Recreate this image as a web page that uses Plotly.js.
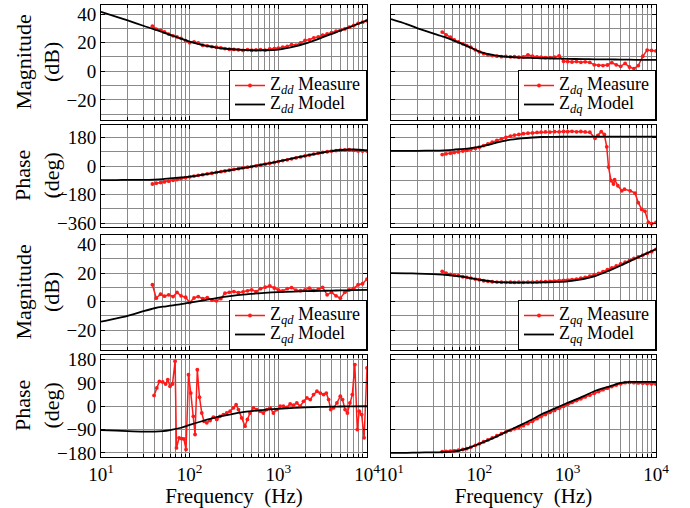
<!DOCTYPE html>
<html><head><meta charset="utf-8">
<script src="https://cdn.plot.ly/plotly-3.0.1.min.js"></script>
<style>html,body{margin:0;padding:0;background:#fff;}#chart{width:690px;height:508px;}
#chart svg text, #chart svg tspan { font-family: "Liberation Serif", "Times New Roman", serif !important; }</style>
</head><body><div id="chart"></div>
<script>
// ---------------- data ----------------
const modelFreq = [10, 15, 20, 30, 40, 50, 60, 80, 100, 150, 200, 300, 400, 500, 700, 1000, 1500, 2000, 3000, 4000, 5000, 7000, 10000];
const measFreq = [38, 42, 47, 52, 58, 65, 72, 80, 90, 100, 112, 125, 140, 158, 178, 200, 225, 250, 280, 315, 355, 400, 450, 500, 560, 630, 710, 800, 900, 1000, 1120, 1260, 1410, 1580, 1780, 2000, 2240, 2510, 2820, 3160, 3550, 3980, 4470, 5010, 5620, 6310, 7080, 7940, 8910, 10000];

// Zdd magnitude (dB)
const zddMagModel = [41.5, 38, 35.5, 31.8, 29.3, 27.2, 25.5, 22.8, 20.8, 18, 16.6, 15.4, 14.9, 14.7, 14.7, 15.2, 17.2, 19.3, 23.2, 26.2, 28.3, 31.8, 35.6];
const zddMagMeas = [31.5, 29.5, 28.6, 27.5, 26.0, 24.8, 24.0, 23.0, 21.4, 20.0, 20.6, 19.8, 18.2, 17.8, 17.3, 16.8, 16.3, 15.9, 15.4, 15.3, 15.0, 14.6, 15.1, 14.7, 14.9, 15.2, 14.8, 15.6, 15.9, 16.2, 16.8, 17.4, 18.6, 18.3, 19.8, 21.6, 22.0, 23.4, 24.0, 25.2, 26.1, 27.0, 28.0, 28.6, 29.6, 30.8, 32.0, 33.4, 34.3, 35.3];

// Zdq magnitude (dB)
const zdqMagModel = [36.5, 33, 30, 26.5, 24, 21.8, 19.8, 16.5, 13.8, 11.2, 10.3, 9.6, 9.3, 9.1, 8.9, 8.7, 8.5, 8.4, 8.3, 8.2, 8.1, 8, 8];
const zdqMagMeas = [27.4, 25.5, 23.8, 22.0, 20.5, 19.2, 18.0, 16.8, 15.0, 13.5, 12.3, 11.5, 11.0, 10.6, 10.2, 10.4, 10.1, 10.3, 9.8, 10.0, 11.5, 10.5, 10.0, 9.8, 9.5, 9.6, 9.8, 10.8, 7.0, 6.8, 6.5, 6.8, 6.3, 6.6, 6.2, 4.5, 4.2, 4.0, 4.4, 6.0, 4.5, 3.5, 5.5, 3.0, 1.9, 4.0, 10.5, 14.8, 14.6, 14.2];

// Zdd phase (deg)
const zddPhModel = [-88, -88, -87, -87, -85, -82, -78, -72, -66, -52, -40, -24, -12, -3, 12, 30, 50, 65, 84, 95, 102, 105, 100];
const zddPhMeas = [-113, -108, -104, -100, -95, -90, -85, -79, -73, -68, -63, -58, -54, -49, -45, -40, -35, -31, -26, -21, -16, -11, -7, -3, 1, 6, 12, 18, 23, 29, 35, 40, 46, 52, 58, 64, 70, 76, 82, 87, 91, 95, 98, 101, 103, 104, 100, 96, 95, 95];

// Zdq phase (deg)
const zdqPhModel = [96, 96, 97, 98, 100, 103, 107, 114, 122, 145, 162, 175, 181, 184, 185, 186, 186, 186, 186, 186, 186, 186, 186];
const zdqPhFreq = [38, 42, 47, 52, 58, 65, 72, 80, 90, 100, 112, 125, 140, 158, 178, 200, 225, 250, 280, 315, 355, 400, 450, 500, 560, 630, 710, 800, 900, 1000, 1120, 1260, 1410, 1580, 1780, 2040, 2200, 2400, 2600, 2770, 2900, 3100, 3300, 3400, 3700, 4100, 4400, 5100, 5800, 6300, 6900, 7500, 8200, 8900, 10000];
const zdqPhMeas = [73, 78, 82, 86, 90, 95, 100, 106, 112, 120, 130, 140, 152, 163, 172, 182, 190, 196, 200, 205, 208, 210, 213, 215, 216, 215, 218, 217, 219, 218, 220, 217, 219, 216, 214, 176, 195, 218, 200, 122, -6, -92, -113, -86, -124, -156, -146, -156, -171, -231, -274, -285, -356, -364, -356];

// Zqd magnitude (dB)
const zqdMagModel = [-14.1, -11.8, -10, -6.8, -4.7, -3.6, -2.9, -1.8, -0.7, 1.0, 2.4, 4.0, 4.9, 5.4, 6.1, 6.6, 7.0, 7.3, 7.5, 7.7, 7.8, 8.0, 8.2];
const zqdMagMeas = [11.8, 2.4, 5.2, 3.8, 4.7, 3.5, 6.4, 4.0, 3.0, -0.7, 2.5, 3.5, 2.0, 2.8, 1.0, 0.5, 2.0, 5.9, 6.5, 7.0, 6.2, 6.8, 7.5, 8.2, 7.0, 9.0, 10.1, 11.0, 9.5, 8.2, 7.5, 9.0, 9.8, 8.0, 7.6, 8.2, 9.4, 7.8, 8.6, 10.0, 4.7, 6.5, 4.0, 2.4, 6.5, 8.2, 9.3, 11.8, 12.5, 15.8];

// Zqq magnitude (dB)
const zqqMagModel = [20, 19.8, 19.6, 19.2, 18.8, 18.2, 17.6, 16.4, 15.3, 13.8, 13.4, 13.3, 13.3, 13.4, 13.7, 14.2, 15.8, 17.6, 21.9, 25.3, 28.2, 32.4, 36.9];
const zqqMagMeas = [21.2, 20.0, 19.0, 18.6, 18.2, 17.4, 17.0, 16.4, 15.8, 15.3, 14.6, 14.2, 13.9, 13.7, 13.6, 13.5, 13.6, 13.4, 13.6, 13.5, 13.7, 13.6, 13.8, 13.9, 14.0, 14.2, 14.3, 14.6, 14.8, 15.0, 15.4, 15.8, 16.4, 17.0, 17.8, 18.8, 19.8, 21.0, 22.4, 23.6, 25.0, 26.4, 27.6, 28.8, 30.2, 31.4, 32.6, 33.8, 35.0, 36.6];

// Zqd phase (deg)
const zqdPhModel = [-92, -94, -96, -98, -98, -96, -92, -83, -72, -54, -42, -30, -23, -19, -14, -10, -6, -4, -2.6, -1.5, -1, -0.5, 0];
const zqdPhFreq = [39.7, 42.6, 45.5, 49.6, 53.6, 56.7, 60, 64, 68.5, 71, 76, 81, 86, 91, 97, 103, 110, 115, 122, 129, 137, 145, 156, 170, 185, 202, 220, 240, 262, 286, 312, 334, 355, 386, 421, 448, 479, 523, 570, 622, 678, 740, 807, 880, 960, 1047, 1142, 1246, 1359, 1482, 1617, 1764, 1924, 2099, 2290, 2497, 2724, 2972, 3242, 3475, 3690, 3900, 4200, 4580, 5000, 5300, 5660, 6010, 6420, 6830, 7290, 7770, 8170, 8700, 9280, 10000];
const zqdPhMeas = [42, 71, 96, 94, 86, 103, 77, 86, 174, -161, -122, -125, -126, -167, 122, 51, -39, -109, 141, 35, -26, -58, -64, -55, -42, -51, -39, -32, -26, -19, -6, 6, -13, -45, -77, -51, -26, -6, -13, -19, -26, -13, -6, -26, -13, 0, 0, -4, 9, 4, 13, 0, 19, 32, 26, 45, 58, 51, 45, 51, 26, -13, -6, 13, 39, 26, -13, -26, 13, 45, 161, -90, -19, -32, -122, 148];

// Zqq phase (deg)
const zqqPhModel = [-180, -180, -179, -178, -177, -175, -171, -158, -145, -120, -99, -71, -50, -32, -10, 13, 38, 58, 77, 90, 94, 94, 94];
const zqqPhMeas = [-175, -174, -173, -172, -170, -167, -164, -158, -151, -145, -137, -130, -122, -114, -106, -99, -93, -87, -81, -75, -67, -58, -48, -40, -32, -24, -16, -8, 0, 8, 15, 22, 29, 36, 43, 50, 57, 64, 70, 76, 82, 87, 91, 92, 91, 90, 89, 88, 87, 86];

const legendNames = ['dd', 'dq', 'qd', 'qq'];
const xTickVals = [10, 100, 1000, 10000];
const xTickText = ['10<sup>1</sup>', '10<sup>2</sup>', '10<sup>3</sup>', '10<sup>4</sup>'];

// ---------------- layout ----------------
const W = 690, H = 508;
const colX = [[101 / W, 367 / W], [391 / W, 656 / W]];
const rowPx = [[5, 120], [125, 227], [235, 350], [355, 457]];
const rowY = rowPx.map(r => [1 - r[1] / H, 1 - r[0] / H]);
const yRanges = [[-34, 46.3], [-385, 260], [-34, 46.7], [-196, 198]];
const yDtick = [20, 180, 20, 90];
const yMinor = [10, 90, 10, null];

const FONT = 'Liberation Serif';
const RED = '#ff1a1a';
const GRID = '#8a8a8a';

const panels = [
  [{m: zddMagModel, mx: measFreq, me: zddMagMeas, leg: 0}, {m: zdqMagModel, mx: measFreq, me: zdqMagMeas, leg: 1}],
  [{m: zddPhModel, mx: measFreq, me: zddPhMeas}, {m: zdqPhModel, mx: zdqPhFreq, me: zdqPhMeas}],
  [{m: zqdMagModel, mx: measFreq, me: zqdMagMeas, leg: 2}, {m: zqqMagModel, mx: measFreq, me: zqqMagMeas, leg: 3}],
  [{m: zqdPhModel, mx: zqdPhFreq, me: zqdPhMeas}, {m: zqqPhModel, mx: measFreq, me: zqqPhMeas}]
];

const legendLabel = (sub, word) =>
  '<span style="font-size:18px">Z<sub><i>' + sub + '</i></sub> ' + word + '</span>';

const traces = [];
const layout = {
  width: W, height: H,
  margin: {l: 0, r: 0, t: 0, b: 0},
  showlegend: true,
  annotations: []
};

for (let r = 0; r < 4; r++) {
  for (let c = 0; c < 2; c++) {
    const n = r * 2 + c + 1;
    const xa = 'x' + (n === 1 ? '' : n), ya = 'y' + (n === 1 ? '' : n);
    const p = panels[r][c];
    const hasLeg = p.leg !== undefined;
    const legId = hasLeg ? (p.leg === 0 ? 'legend' : 'legend' + (p.leg + 1)) : 'legend';
    const sub = hasLeg ? legendNames[p.leg] : '';
    traces.push({
      x: p.mx, y: p.me, xaxis: xa, yaxis: ya, type: 'scatter', mode: 'lines+markers',
      line: {color: RED, width: 1.5}, marker: {color: RED, size: 3.8},
      name: legendLabel(sub, 'Measure'),
      showlegend: hasLeg, legend: legId
    });
    traces.push({
      x: modelFreq, y: p.m, xaxis: xa, yaxis: ya, type: 'scatter', mode: 'lines',
      line: {color: '#000', width: 1.8, shape: 'spline', smoothing: 0.8},
      name: legendLabel(sub, 'Model'),
      showlegend: hasLeg, legend: legId
    });

    const xk = 'xaxis' + (n === 1 ? '' : n), yk = 'yaxis' + (n === 1 ? '' : n);
    layout[xk] = {
      type: 'log', range: [1, 4], domain: colX[c], anchor: ya,
      tickmode: 'array', tickvals: xTickVals, ticktext: xTickText,
      showticklabels: r === 3,
      tickfont: {size: 19, family: FONT, color: '#000'},
      ticks: 'inside', ticklen: 4, tickcolor: '#000',
      showgrid: true, gridcolor: GRID, gridwidth: 1,
      minor: {dtick: 'D1', showgrid: true, gridcolor: GRID, gridwidth: 1, ticks: 'inside', ticklen: 3, tickcolor: '#000'},
      showline: true, linecolor: '#000', linewidth: 1, mirror: 'ticks',
      zeroline: false, fixedrange: true
    };
    if (r === 3) {
      layout[xk].title = {text: 'Frequency  (Hz)', font: {size: 21, family: FONT, color: '#000'}, standoff: 0};
    }
    const yObj = {
      range: yRanges[r], domain: rowY[r], anchor: xa,
      dtick: yDtick[r], tick0: 0,
      showticklabels: c === 0,
      tickfont: {size: 19, family: FONT, color: '#000'},
      ticks: 'inside', ticklen: 4, tickcolor: '#000',
      showgrid: true, gridcolor: GRID, gridwidth: 1,
      showline: true, linecolor: '#000', linewidth: 1, mirror: 'ticks',
      zeroline: false, fixedrange: true
    };
    if (yMinor[r]) {
      yObj.minor = {dtick: yMinor[r], showgrid: true, gridcolor: GRID, gridwidth: 1};
    }
    layout[yk] = yObj;
  }
  layout.annotations.push({
    xref: 'paper', yref: 'paper', x: 37 / W, y: (rowY[r][0] + rowY[r][1]) / 2,
    xanchor: 'center', yanchor: 'middle', textangle: -90, showarrow: false,
    text: (r % 2 === 0) ? 'Magnitude<br>(dB)' : 'Phase<br>(deg)',
    font: {size: 22, family: FONT, color: '#000'}
  });
}

const legBase = {
  bgcolor: '#fff', bordercolor: '#000', borderwidth: 1,
  font: {size: 11, family: FONT, color: '#000'}, xanchor: 'right', yanchor: 'bottom',
  itemwidth: 30, tracegroupgap: 0, traceorder: 'normal'
};
const legPos = [[colX[0][1], rowY[0][0]], [colX[1][1], rowY[0][0]], [colX[0][1], rowY[2][0]], [colX[1][1], rowY[2][0]]];
['legend', 'legend2', 'legend3', 'legend4'].forEach((k, i) => {
  layout[k] = Object.assign({}, legBase, {x: legPos[i][0], y: legPos[i][1]});
});

Plotly.newPlot('chart', traces, layout, {displayModeBar: false, staticPlot: true}).then(function () {
  document.querySelectorAll('#chart svg text').forEach(function (t) { t.style.fontFamily = '"Liberation Serif", serif'; });
});
</script>
</body></html>
